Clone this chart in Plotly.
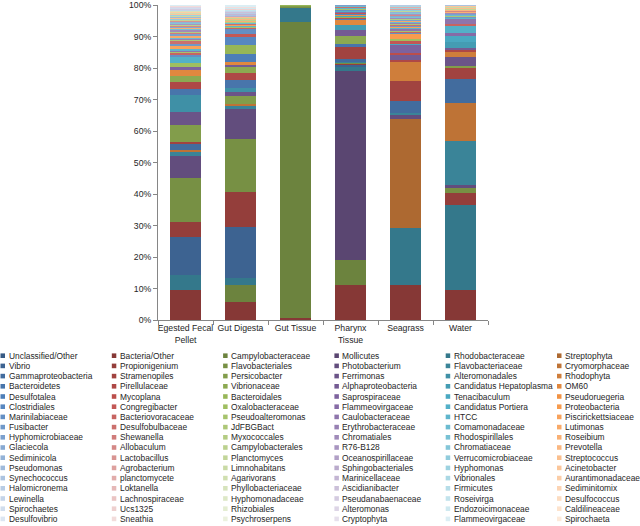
import plotly.graph_objects as go

# ---------------- data ----------------
categories = ["Egested Fecal<br>Pellet", "Gut Digesta", "Gut Tissue", "Pharynx<br>Tissue", "Seagrass", "Water"]

col_blue = ["Unclassified/Other", "Vibrio", "Gammaproteobacteria", "Bacteroidetes", "Desulfotalea", "Clostridiales",
            "Marinilabiaceae", "Fusibacter", "Hyphomicrobiaceae", "Glaciecola", "Sediminicola", "Pseudomonas",
            "Synechococcus", "Halomicronema", "Lewinella", "Spirochaetes", "Desulfovibrio"]
col_red = ["Bacteria/Other", "Propionigenium", "Stramenopiles", "Pirellulaceae", "Mycoplana", "Congregibacter",
           "Bacteriovoracaceae", "Desulfobulbaceae", "Shewanella", "Allobaculum", "Lactobacillus", "Agrobacterium",
           "planctomycete", "Loktanella", "Lachnospiraceae", "Ucs1325", "Sneathia"]
col_green = ["Campylobacteraceae", "Flavobacteriales", "Persicobacter", "Vibrionaceae", "Bacteroidales",
             "Oxalobacteraceae", "Pseudoalteromonas", "JdFBGBact", "Myxococcales", "Campylobacterales",
             "Planctomyces", "Limnohabitans", "Agarivorans", "Phyllobacteriaceae", "Hyphomonadaceae",
             "Rhizobiales", "Psychroserpens"]
col_purple = ["Mollicutes", "Photobacterium", "Ferrimonas", "Alphaproteobacteria", "Saprospiraceae",
              "Flammeovirgaceae", "Caulobacteraceae", "Erythrobacteraceae", "Chromatiales", "R76-B128",
              "Oceanospirillaceae", "Sphingobacteriales", "Marinicellaceae", "Ascidianibacter",
              "Pseudanabaenaceae", "Alteromonas", "Cryptophyta"]
col_teal = ["Rhodobacteraceae", "Flavobacteriaceae", "Alteromonadales", "Candidatus Hepatoplasma", "Tenacibaculum",
            "Candidatus Portiera", "HTCC", "Comamonadaceae", "Rhodospirillales", "Chromatiaceae",
            "Verrucomicrobiaceae", "Hyphomonas", "Vibrionales", "Firmicutes", "Roseivirga", "Endozoicimonaceae",
            "Flammeovirgaceae"]
col_orange = ["Streptophyta", "Cryomorphaceae", "Rhodophyta", "OM60", "Pseudoruegeria", "Proteobacteria",
              "Piscirickettsiaceae", "Lutimonas", "Roseibium", "Prevotella", "Streptococcus", "Acinetobacter",
              "Aurantimonadaceae", "Sediminitomix", "Desulfococcus", "Caldilineaceae", "Spirochaeta"]

# values (%), one line per legend row: blue, red, green, purple, teal, orange
egested = [
    0.0, 9.6, 0.0, 0.0, 4.7, 0.0,
    11.9, 5.0, 13.8, 7.0, 1.6, 0.5,
    1.9, 0.5, 5.3, 4.2, 5.4, 0.0,
    1.8, 2.2, 2.1, 0.0, 0.0, 1.9,
    0.0, 0.0, 0.0, 0.8, 0.0, 0.0,
    0.0, 0.0, 1.5, 0.0, 1.8, 0.0,
    0.5, 1.0, 0.3, 0.3, 0.3, 1.0,
    0.8, 1.0, 0.3, 0.5, 0.3, 0.6,
    0.4, 0.6, 0.3, 0.4, 0.3, 0.4,
    0.3, 0.3, 0.3, 0.3, 0.3, 0.3,
    0.3, 0.2, 0.2, 0.2, 0.3, 0.2,
    0.2, 0.2, 0.2, 0.2, 0.2, 0.2,
    0.1, 0.1, 0.1, 0.1, 0.1, 0.1,
    0.1, 0.1, 0.1, 0.1, 0.1, 0.1,
    0.1, 0.1, 0.1, 0.1, 0.1, 0.1,
    0.1, 0.1, 0.1, 0.1, 0.1, 0.0,
    0.1, 0.1, 0.1, 0.1, 0.1, 0.0,
]
gut_digesta = [
    0.0, 5.8, 5.3, 0.0, 2.2, 0.0,
    16.1, 11.3, 16.8, 9.6, 1.1, 0.3,
    0.0, 0.0, 2.6, 1.4, 1.1, 0.0,
    2.6, 2.1, 2.1, 0.5, 0.0, 1.0,
    2.7, 0.0, 2.6, 0.0, 0.0, 0.0,
    2.7, 1.0, 0.0, 0.0, 0.0, 0.0,
    1.6, 0.3, 0.3, 0.2, 0.2, 0.3,
    0.1, 0.1, 0.1, 0.1, 0.1, 0.1,
    0.1, 0.1, 0.1, 0.1, 0.1, 0.1,
    0.1, 0.1, 0.1, 0.1, 0.1, 0.1,
    0.1, 0.1, 0.1, 0.1, 0.1, 0.1,
    0.1, 0.1, 0.1, 0.1, 0.1, 0.1,
    0.1, 0.1, 0.1, 0.1, 0.1, 0.1,
    0.1, 0.1, 0.1, 0.1, 0.1, 0.1,
    0.1, 0.1, 0.1, 0.1, 0.1, 0.1,
    0.1, 0.1, 0.1, 0.1, 0.1, 0.1,
    0.1, 0.1, 0.1, 0.1, 0.1, 0.0,
]
gut_tissue = [
    0.0, 0.6, 93.9, 0.0, 4.8, 0.0,
    0.0, 0.0, 0.3, 0.0, 0.0, 0.0,
    0.0, 0.0, 0.2, 0.0, 0.0, 0.0,
    0.0, 0.0, 0.1, 0.0, 0.0, 0.0,
    0.0, 0.0, 0.1, 0.0, 0.0, 0.0,
] + [0.0] * 72
pharynx = [
    0.0, 11.1, 8.0, 60.0, 1.1, 0.0,
    0.8, 0.5, 0.4, 0.0, 0.3, 0.0,
    0.6, 3.9, 0.0, 0.0, 0.0, 0.0,
    1.0, 0.0, 2.5, 2.0, 1.6, 1.5,
    0.3, 0.3, 0.3, 0.3, 0.3, 0.3,
    0.2, 0.2, 0.2, 0.2, 0.2, 0.2,
    0.15, 0.15, 0.15, 0.15, 0.15, 0.15,
    0.1, 0.1, 0.1, 0.1, 0.1, 0.1,
    0.2, 0.0, 0.0, 0.0, 0.0, 0.0,
] + [0.0] * 48
seagrass = [
    0.0, 11.1, 0.0, 0.0, 18.1, 34.5,
    0.0, 0.0, 0.0, 1.3, 0.8, 0.0,
    3.7, 6.4, 0.0, 0.0, 0.0, 5.9,
    0.0, 0.8, 0.0, 1.5, 0.0, 0.0,
    0.0, 0.8, 0.0, 2.5, 0.5, 0.0,
    0.0, 0.6, 0.8, 0.0, 0.0, 1.5,
    0.4, 0.4, 0.4, 0.4, 0.4, 0.4,
    0.3, 0.3, 0.3, 0.3, 0.3, 0.3,
    0.25, 0.25, 0.25, 0.25, 0.25, 0.25,
    0.2, 0.2, 0.2, 0.2, 0.2, 0.2,
    0.15, 0.15, 0.15, 0.15, 0.15, 0.15,
    0.1, 0.1, 0.1, 0.1, 0.1, 0.1,
    0.1, 0.1, 0.1, 0.1, 0.1, 0.1,
    0.2, 0.0, 0.0, 0.0, 0.0, 0.0,
] + [0.0] * 18
water = [
    0.0, 9.6, 0.0, 0.0, 27.0, 0.0,
    0.0, 3.7, 1.6, 1.0, 13.9, 12.2,
    7.4, 3.8, 0.4, 3.0, 0.0, 1.6,
    0.0, 0.5, 0.0, 0.8, 1.6, 0.0,
    0.0, 0.0, 0.0, 0.0, 2.1, 0.0,
    0.0, 0.0, 0.0, 0.8, 2.6, 0.0,
    0.0, 0.3, 0.0, 1.9, 0.3, 0.0,
    0.15, 0.15, 0.15, 0.15, 0.15, 0.15,
    0.15, 0.15, 0.15, 0.15, 0.15, 0.15,
    0.1, 0.1, 0.1, 0.1, 0.1, 0.1,
    0.1, 0.1, 0.1, 0.1, 0.1, 0.1,
    0.1, 0.1, 0.1, 0.1, 0.1, 0.1,
    0.3, 0.0, 0.0, 0.0, 0.0, 0.0,
] + [0.0] * 24

y_ticks = [0, 10, 20, 30, 40, 50, 60, 70, 80, 90, 100]
y_tick_labels = ["0%", "10%", "20%", "30%", "40%", "50%", "60%", "70%", "80%", "90%", "100%"]

# ---------------- styling ----------------
accents = ["#4F81BD", "#C0504D", "#9BBB59", "#8064A2", "#4BACC6", "#F79646"]
n_rows = 17
columns = [col_blue, col_red, col_green, col_purple, col_teal, col_orange]


def shade(hexc, row):
    r, g, b = int(hexc[1:3], 16), int(hexc[3:5], 16), int(hexc[5:7], 16)
    lum = -0.3 + row * 1.1 / (n_rows - 1)
    if lum < 0:
        f = 1 + lum
        r, g, b = r * f, g * f, b * f
    else:
        r, g, b = r + (255 - r) * lum, g + (255 - g) * lum, b + (255 - b) * lum
    return "rgb(%d,%d,%d)" % (round(r), round(g), round(b))


W, H = 640, 526
PL, PR, PT, PB = 158, 488, 5, 320   # plot area in pixels


def px_x(px):
    return (px - PL) / (PR - PL)


def px_y(py):
    return (PB - py) / (PB - PT)


data_by_cat = [egested, gut_digesta, gut_tissue, pharynx, seagrass, water]
fig = go.Figure()
shapes = []
annotations = []
FONT = "Liberation Sans"
LEG_SIZE = 8.4

for row in range(n_rows):
    for col in range(6):
        i = row * 6 + col
        name = columns[col][row]
        color = shade(accents[col], row)
        fig.add_trace(go.Bar(
            x=categories,
            y=[d[i] for d in data_by_cat],
            name=name,
            marker=dict(color=color, line=dict(width=0)),
            showlegend=False,
        ))
        # manual legend entry
        mx = 0.5 + col * 111.3
        my = 355.7 + row * 10.2
        shapes.append(dict(type="rect", xref="paper", yref="paper",
                           x0=px_x(mx), x1=px_x(mx + 4.5),
                           y0=px_y(my + 2.3), y1=px_y(my - 2.3),
                           fillcolor=color, line=dict(width=0), layer="above"))
        annotations.append(dict(xref="paper", yref="paper", x=px_x(mx + 6.0), y=px_y(my),
                                xanchor="left", yanchor="middle", showarrow=False,
                                text=name, font=dict(family=FONT, size=LEG_SIZE, color="#262626")))

fig.update_layout(
    width=W, height=H,
    margin=dict(l=PL, r=W - PR, t=PT, b=H - PB),
    barmode="stack",
    bargap=0.42,
    plot_bgcolor="white",
    paper_bgcolor="white",
    showlegend=False,
    font=dict(family=FONT, size=8.7, color="#262626"),
    shapes=shapes,
    annotations=annotations,
    xaxis=dict(showline=True, linecolor="#868686", linewidth=1, ticks="outside",
               tickson="boundaries", ticklen=4, tickcolor="#868686", showgrid=False,
               tickangle=0, automargin=False,
               tickfont=dict(family=FONT, size=8.7, color="#262626")),
    yaxis=dict(range=[0, 100], tickvals=y_ticks, ticktext=y_tick_labels, showline=True,
               linecolor="#868686", linewidth=1, ticks="outside", ticklen=4, tickcolor="#868686",
               showgrid=False, zeroline=False, automargin=False,
               tickfont=dict(family=FONT, size=8.7, color="#262626")),
)

fig.write_html("out.html", config={"displayModeBar": False},
               post_script="document.body.style.margin='0';")
